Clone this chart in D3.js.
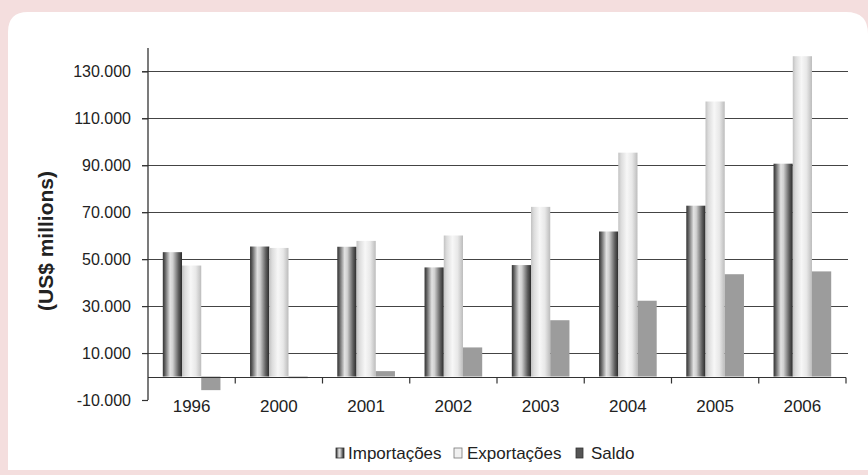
<!DOCTYPE html>
<html><head><meta charset="utf-8">
<script src="https://cdn.jsdelivr.net/npm/d3@7"></script>
<style>html,body{margin:0;padding:0;background:#f4dede;}</style>
</head><body>
<svg id="c" width="868" height="475"></svg>
<script>
const years = ["1996","2000","2001","2002","2003","2004","2005","2006"];
const importacoes = [53000, 55400, 55300, 46500, 47500, 61800, 72800, 90700];
const exportacoes = [47300, 54800, 57800, 60100, 72300, 95400, 117200, 136500];
const saldo = [-5800, -700, 2300, 12400, 24000, 32300, 43600, 44800];
const seriesNames = ["Importações", "Exportações", "Saldo"];
const yTicks = [-10000, 10000, 30000, 50000, 70000, 90000, 110000, 130000];

const svg = d3.select("#c");
const font = "'Liberation Sans', Arial, sans-serif";
const defs = svg.append("defs");
function cyl(id, stops){
  const g = defs.append("linearGradient").attr("id", id).attr("x1","0").attr("x2","1").attr("y1","0").attr("y2","0");
  stops.forEach(s => g.append("stop").attr("offset", s[0]).attr("stop-color", s[1]));
}
cyl("gImp", [[0,"#333333"],[0.1,"#5a5a5a"],[0.38,"#e2e2e2"],[0.52,"#d0d0d0"],[0.82,"#5e5e5e"],[1,"#2a2a2a"]]);
cyl("gExp", [[0,"#c2c2c2"],[0.15,"#dcdcdc"],[0.45,"#f7f7f7"],[0.72,"#e8e8e8"],[1,"#bcbcbc"]]);

// white panel
svg.append("path")
  .attr("d", "M8,32 Q8,12 28,12 L846,12 Q868,12 868,34 L868,470 L8,470 Z")
  .attr("fill", "#ffffff");

const x0 = 148, x1 = 846, yTop = 48, yBot = 400;
const y = d3.scaleLinear().domain([-10000, 140000]).range([yBot, yTop]);
const x = d3.scaleBand().domain(years).range([x0, x1]).paddingInner(0).paddingOuter(0);
const inner = d3.scaleBand().domain(seriesNames).range([0, x.bandwidth()]).paddingInner(0).paddingOuter(0.77);

const data = years.map((yr, i) => ({year: yr, vals: [importacoes[i], exportacoes[i], saldo[i]]}));

// gridlines
const gridVals = yTicks.filter(v => v > -10000);
svg.append("g").selectAll("line").data(gridVals).join("line")
  .attr("x1", x0 - 6).attr("x2", x1 + 2)
  .attr("y1", d => Math.round(y(d)) + 0.5).attr("y2", d => Math.round(y(d)) + 0.5)
  .attr("stroke", "#444").attr("stroke-width", 1.2);

// bars
const fills = ["url(#gImp)", "url(#gExp)", "#9c9c9c"];
const g = svg.append("g");
data.forEach(d => {
  d.vals.forEach((v, k) => {
    const top = y(Math.max(0, v)), bot = y(Math.min(0, v));
    g.append("rect")
      .attr("x", x(d.year) + inner(seriesNames[k]))
      .attr("y", top)
      .attr("width", inner.bandwidth())
      .attr("height", Math.max(1, bot - top))
      .attr("fill", fills[k]);
  });
});

// y axis
const yAxis = d3.axisLeft(y).tickValues(yTicks).tickSize(6).tickPadding(11)
  .tickFormat(d => d3.format(",")(d).replace(/,/g, ".").replace("\u2212", "-"));
const ya = svg.append("g").attr("transform", `translate(${x0},0)`).call(yAxis);
ya.select(".domain").remove();
ya.append("line").attr("x1", 0).attr("x2", 0).attr("y1", yTop).attr("y2", yBot).attr("stroke", "#333").attr("stroke-width", 1.3);
ya.selectAll(".tick line").attr("stroke", "#333").attr("stroke-width", 1.2);
ya.selectAll(".tick text").attr("font-family", font).attr("font-size", 16).attr("fill", "#222");

// x axis at zero
const xAxisY = Math.round(y(0)) + 0.5;
svg.append("line").attr("x1", x0).attr("x2", x1).attr("y1", xAxisY).attr("y2", xAxisY)
  .attr("stroke", "#333").attr("stroke-width", 1.2);
const bounds = years.map((yr) => x(yr) + x.bandwidth());
svg.append("g").selectAll("line").data(bounds).join("line")
  .attr("x1", d => d).attr("x2", d => d).attr("y1", xAxisY).attr("y2", xAxisY + 6)
  .attr("stroke", "#333").attr("stroke-width", 1.2);
svg.append("g").selectAll("text").data(years).join("text")
  .attr("x", d => x(d) + x.bandwidth() / 2)
  .attr("y", 412)
  .attr("text-anchor", "middle")
  .attr("font-family", font).attr("font-size", 17).attr("fill", "#222")
  .text(d => d);

// y label
svg.append("text")
  .attr("transform", "translate(53,241) rotate(-90)")
  .attr("text-anchor", "middle")
  .attr("font-family", font).attr("font-size", 21).attr("font-weight", "bold").attr("fill", "#222")
  .text("(US$ millions)");

// legend
const legend = svg.append("g").attr("transform", "translate(0,459)");
const legFill = ["url(#gImp)", "#f0f0f0", "#555555"];
const legX = [336, 454, 576];
const legTX = [348, 467, 591];
seriesNames.forEach((n, k) => {
  legend.append("rect").attr("x", legX[k]).attr("y", -11).attr("width", k === 2 ? 7 : 8).attr("height", 10)
    .attr("fill", legFill[k]).attr("stroke", k === 1 ? "#777" : "#333").attr("stroke-width", 0.8);
  legend.append("text").attr("x", legTX[k]).attr("y", 0)
    .attr("font-family", font).attr("font-size", 17).attr("fill", "#222").text(n);
});
</script>
</body></html>
